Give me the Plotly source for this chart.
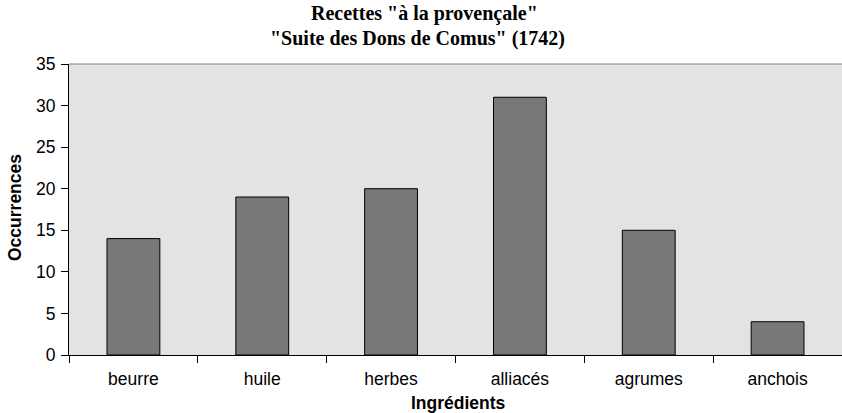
import plotly.graph_objects as go

categories = ["beurre", "huile", "herbes", "alliacés", "agrumes", "anchois"]
occurrences = [14, 19, 20, 31, 15, 4]
y_ticks = [0, 5, 10, 15, 20, 25, 30, 35]

fig = go.Figure(go.Bar(
    x=categories, y=occurrences,
    marker=dict(color="#787878", line=dict(color="#000000", width=1)),
    width=0.41,
))

fig.update_layout(
    width=842, height=413,
    margin=dict(l=69, r=0, t=64, b=58, autoexpand=False),
    paper_bgcolor="white",
    plot_bgcolor="#e3e3e3",
    showlegend=False,
    font=dict(family="Liberation Sans", size=14, color="black"),
    bargap=0.59,
)

fig.update_xaxes(
    type="category",
    automargin=False,
    tickson="boundaries",
    ticks="outside", ticklen=7, tickcolor="black", tickwidth=1,
    showline=True, linecolor="black", linewidth=1,
    showgrid=False,
    ticklabelstandoff=8,
    tickfont=dict(family="Liberation Sans", size=17.5),
)

fig.update_yaxes(
    automargin=False,
    range=[0, 35],
    tickvals=y_ticks,
    ticks="outside", ticklen=7, tickcolor="black", tickwidth=1,
    showline=True, linecolor="black", linewidth=1,
    showgrid=False, zeroline=False,
    ticklabelstandoff=2,
    tickfont=dict(family="Liberation Sans", size=17.5),
)

fig.add_shape(type="line", xref="paper", yref="paper", x0=0, x1=1, y0=1, y1=1,
              line=dict(color="#808080", width=1))

annotations = [
    dict(text="<b>Recettes \"à la provençale\"</b>", x=424, y=14, font=dict(family="Liberation Serif", size=20)),
    dict(text="<b>\"Suite des Dons de Comus\" (1742)</b>", x=417, y=38, font=dict(family="Liberation Serif", size=20)),
    dict(text="<b>Ingrédients</b>", x=459, y=403, font=dict(family="Liberation Sans", size=17.5)),
]
for a in annotations:
    fig.add_annotation(
        text=a["text"], xref="paper", yref="paper",
        x=(a["x"] - 69) / (842 - 69), y=1 - (a["y"] - 64) / (355 - 64),
        xanchor="center", yanchor="middle", showarrow=False, font=a["font"],
    )
fig.add_annotation(
    text="<b>Occurrences</b>", xref="paper", yref="paper",
    x=(15 - 69) / (842 - 69), y=1 - (208 - 64) / (355 - 64),
    xanchor="center", yanchor="middle", showarrow=False, textangle=-90,
    font=dict(family="Liberation Sans", size=17.5),
)

post = (
    "document.documentElement.style.margin='0';"
    "document.documentElement.style.overflow='hidden';"
    "document.body.style.margin='0';"
    "document.body.style.padding='0';"
    "document.body.style.overflow='hidden';"
    "var gd=document.getElementById('{plot_id}');"
    "Plotly.relayout(gd,{width:842,height:413});"
)

fig.write_html("out.html", post_script=post,
               config={"responsive": False, "displayModeBar": False})
